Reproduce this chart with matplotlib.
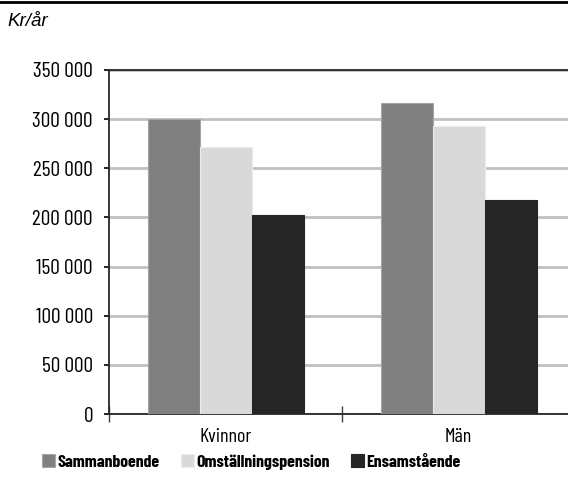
import matplotlib.pyplot as plt
from matplotlib.lines import Line2D
from matplotlib.ticker import FuncFormatter
import numpy as np

# data
categories = ['Kvinnor', 'Män']
series = ['Sammanboende', 'Omställningspension', 'Ensamstående']
values = {
    'Sammanboende': [300000, 316000],
    'Omställningspension': [272000, 293000],
    'Ensamstående': [202000, 218000],
}
colors = ['#808080', '#d9d9d9', '#262626']
edges = ['#a6a6a6', '#ececec', '#262626']

plt.rcParams['font.family'] = ['Barlow Condensed', 'Roboto Condensed', 'DejaVu Sans']

fig = plt.figure(figsize=(5.68, 4.79), dpi=100, facecolor='white')
ax = fig.add_axes([109/568, 65/479, 466/568, 344/479])

x = np.arange(len(categories))
w = 52/233
for i, s in enumerate(series):
    ax.bar(x + (i - 1) * w, values[s], width=w, color=colors[i],
           edgecolor=edges[i], linewidth=0.8, zorder=3, label=s)

ax.set_xlim(-0.5, 1.5)
ax.set_ylim(0, 350000)
ax.set_yticks(np.arange(0, 350001, 50000))
ax.yaxis.set_major_formatter(FuncFormatter(lambda v, p: f'{int(v):,}'.replace(',', ' ')))
ax.grid(axis='y', color='#c0c0c0', linewidth=2, zorder=0)
ax.set_axisbelow(True)

# category ticks sit between the groups
ax.set_xticks([-0.5, 0.5, 1.5])
ax.set_xticklabels([])
ax.set_xticks(x, minor=True)
ax.set_xticklabels(categories, minor=True)
ax.tick_params(axis='x', which='major', direction='inout', length=12, width=1, color='#404040')
ax.tick_params(axis='x', which='minor', length=0, pad=10, labelsize=14.5)
ax.tick_params(axis='y', direction='out', length=3.6, width=1.2, labelsize=15.5, pad=8)

for side in ['left', 'top', 'bottom']:
    ax.spines[side].set_color('#262626')
    ax.spines[side].set_linewidth(1.3)
ax.spines['right'].set_visible(False)

fig.text(7/568, 1 - 21/479, 'Kr/år', fontsize=13.5, style='italic',
         family=['Liberation Sans', 'DejaVu Sans'], va='center', ha='left')

fig.add_artist(Line2D([0, 1], [1 - 1.5/479, 1 - 1.5/479], color='black', linewidth=2))

leg = fig.legend(loc='center left', bbox_to_anchor=(42/568, 1 - 462/479), ncol=3,
                 frameon=False, borderaxespad=0, borderpad=0,
                 handlelength=0.75, handleheight=0.75, handletextpad=0.15,
                 columnspacing=1.15, prop={'weight': 'bold', 'size': 12.8})

fig.savefig('out.png', dpi=100)
